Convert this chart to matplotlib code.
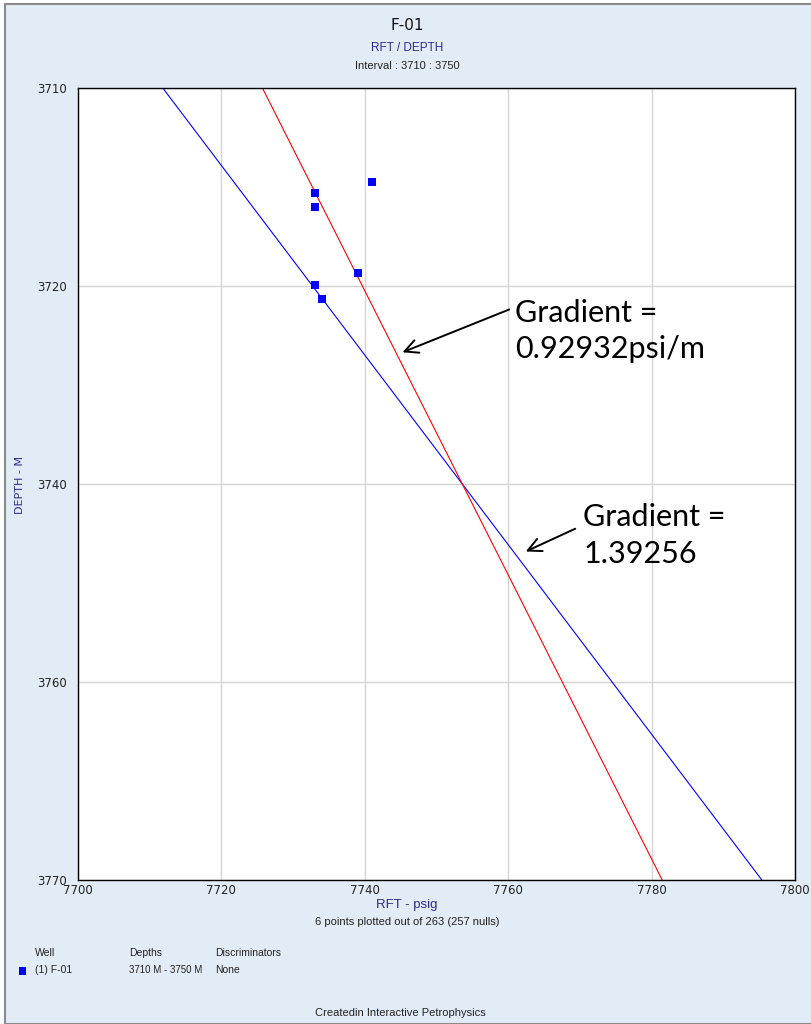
import matplotlib
matplotlib.use("Agg")
import matplotlib.pyplot as plt
from matplotlib.patches import Rectangle
import numpy as np

# ---- data ----
pressure = [7741.0, 7733.0, 7733.0, 7739.0, 7733.0, 7734.0]   # psig
depth = [3717.1, 3717.95, 3719.0, 3724.0, 3724.9, 3726.0]       # m

line_depths = [3710.0, 3770.0]
pivot_depth = 3740.0
pivot_pressure = 7753.6
gradient_red = 0.92932
gradient_blue = 1.39256

x_ticks = [7700, 7720, 7740, 7760, 7780, 7800]
y_ticks = [3710, 3725, 3740, 3755, 3770]
y_tick_labels = ["3710", "3720", "3740", "3760", "3770"]

W, H = 811, 1024
fig = plt.figure(figsize=(W / 100, H / 100), dpi=100)
fig.patch.set_facecolor("white")
bg = "#e2ecf6"
fig.patches.append(Rectangle((5 / W, 0), 1.0, 1 - 4 / H, transform=fig.transFigure,
                             facecolor=bg, edgecolor="#8a8a8a", lw=1.5, zorder=-10))

def px(x, y):
    return x / W, 1 - y / H

L, R, T, B = 78, 795, 88, 880
ax = fig.add_axes([L / W, 1 - B / H, (R - L) / W, (B - T) / H])
ax.set_zorder(1)
ax.set_facecolor("white")
ax.set_xlim(7700, 7800)
ax.set_ylim(3770, 3710)
ax.set_xticks(x_ticks)
ax.set_yticks(y_ticks)
ax.set_yticklabels(y_tick_labels)
ax.tick_params(length=0, labelsize=8.5, colors="#222222", pad=8)
ax.tick_params(axis="x", pad=3)
ax.grid(True, color="#d4d4d4", lw=1)
ax.set_axisbelow(True)
for s in ax.spines.values():
    s.set_color("black")
    s.set_linewidth(1)

ld = np.array(line_depths)
ax.plot(pivot_pressure + gradient_blue * (ld - pivot_depth), ld, color="blue", lw=0.8)
ax.plot(pivot_pressure + gradient_red * (ld - pivot_depth), ld, color="red", lw=0.8)
ax.scatter(pressure, depth, marker="s", s=40, color="blue", zorder=5, linewidths=0)

# annotations
tfont = dict(family=["Lato", "Open Sans", "DejaVu Sans"], fontsize=22, color="black")
ax.annotate("", xy=(7744.9, 3730.1), xytext=(7760.5, 3726.7),
            arrowprops=dict(arrowstyle="->", color="black", lw=1.4, mutation_scale=24))
ax.text(7761.0, 3728.4, "Gradient =\n0.92932psi/m", va="center", ha="left",
        linespacing=1.35, **tfont)
ax.annotate("", xy=(7762.1, 3745.2), xytext=(7769.7, 3743.3),
            arrowprops=dict(arrowstyle="->", color="black", lw=1.4, mutation_scale=24))
ax.text(7770.5, 3743.9, "Gradient =\n1.39256", va="center", ha="left",
        linespacing=1.35, **tfont)

dark_blue = "#2b2b8f"
small = dict(family=["Liberation Sans", "DejaVu Sans"], color="#222222")
fig.text(*px(407, 25), "F-01", ha="center", va="center", fontsize=11, color="#111111")
fig.text(*px(407, 48), "RFT / DEPTH", ha="center", va="center", fontsize=8.5, color=dark_blue,
         family=["Liberation Sans", "DejaVu Sans"])
fig.text(*px(407, 66), "Interval : 3710 : 3750", ha="center", va="center", fontsize=8, **small)
fig.text(*px(20, 485), "DEPTH - M", ha="center", va="center", rotation=90, fontsize=8, color=dark_blue)
fig.text(*px(407, 905), "RFT - psig", ha="center", va="center", fontsize=9.5, color=dark_blue,
         family=["Liberation Sans", "DejaVu Sans"])
fig.text(*px(407, 922), "6 points plotted out of 263 (257 nulls)", ha="center", va="center",
         fontsize=8, **small)

fig.text(*px(35, 953), "Well", ha="left", va="center", fontsize=7.5, **small)
fig.text(*px(129, 953), "Depths", ha="left", va="center", fontsize=7.5, **small)
fig.text(*px(215, 953), "Discriminators", ha="left", va="center", fontsize=7.5, **small)
fig.patches.append(Rectangle(px(19, 975), 7 / W, 8 / H, transform=fig.transFigure,
                             facecolor="blue", edgecolor="none"))
fig.text(*px(35, 970), "(1) F-01", ha="left", va="center", fontsize=7.5, **small)
fig.text(*px(129, 970), "3710 M - 3750 M", ha="left", va="center", fontsize=7, **small)
fig.text(*px(215, 970), "None", ha="left", va="center", fontsize=7.5, **small)
fig.text(*px(400, 1013), "Createdin Interactive Petrophysics", ha="center", va="center",
         fontsize=8, **small)

fig.savefig("out.png", dpi=100, facecolor=fig.get_facecolor())
